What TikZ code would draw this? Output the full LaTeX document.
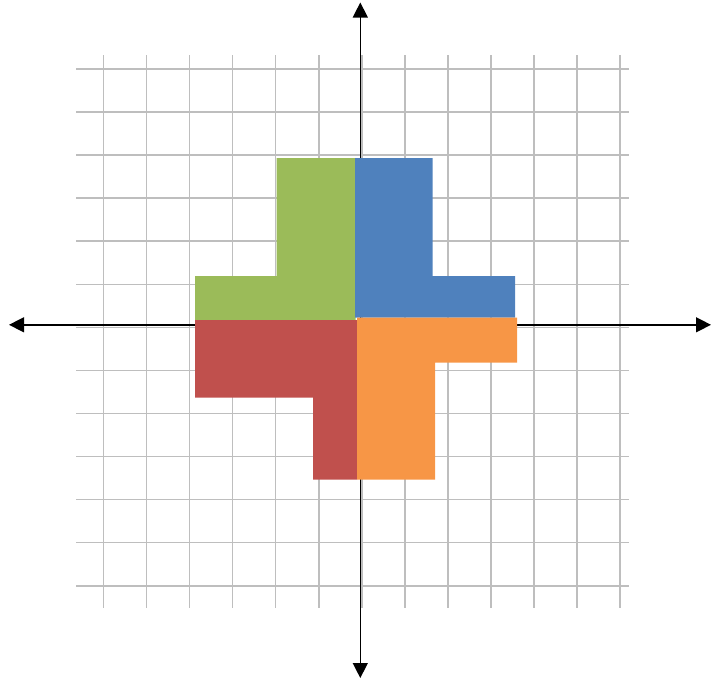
\documentclass[tikz,border=0pt]{standalone}
\usetikzlibrary{arrows.meta}
\definecolor{gridgray}{HTML}{BEBEBE}
\definecolor{qgreen}{HTML}{9BBB59}
\definecolor{qblue}{HTML}{4F81BD}
\definecolor{qorange}{HTML}{F79646}
\definecolor{qred}{HTML}{C0504D}
\tikzset{
  gridline/.style={draw=gridgray, line width=1.6pt},
  axisline/.style={draw=black, line width=1.4pt, -{Triangle[length=15pt,width=15pt]}},
  piece/.style={draw=none}
}
\begin{document}
\begin{tikzpicture}[x=1pt,y=-1pt]
\useasboundingbox (0,0) rectangle (711,683);
% grid
\foreach \i in {0,...,12}{
  \draw[gridline] ({103.3+43.08*\i},55) -- ({103.3+43.08*\i},607.5);
  \draw[gridline] (76,{69+43.06*\i}) -- (629,{69+43.06*\i});
}
% axes
\coordinate (o) at (360.3,324.8);
\coordinate (xl) at (9,324.8);
\coordinate (xr) at (711,324.8);
\coordinate (yt) at (360.3,2.5);
\coordinate (yb) at (360.3,678);
\draw[axisline] (o) -- (xl);
\draw[axisline] (o) -- (xr);
\draw[axisline] (o) -- (yt);
\draw[axisline] (o) -- (yb);
% pieces
\fill[qgreen] (276.7,158) -- (355.5,158) -- (355.5,320.5) -- (195,320.5) -- (195,276) -- (276.7,276) -- cycle;
\fill[qblue] (355,158) -- (432.7,158) -- (432.7,276) -- (515,276) -- (515,317.5) -- (355,317.5) -- cycle;
\fill[qred] (195,320) -- (357.2,320) -- (357.2,479.7) -- (313,479.7) -- (313,397.7) -- (195,397.7) -- cycle;
\fill[qorange] (357,317.5) -- (517,317.5) -- (517,362.7) -- (435,362.7) -- (435,479.7) -- (357,479.7) -- cycle;
\end{tikzpicture}
\end{document}
